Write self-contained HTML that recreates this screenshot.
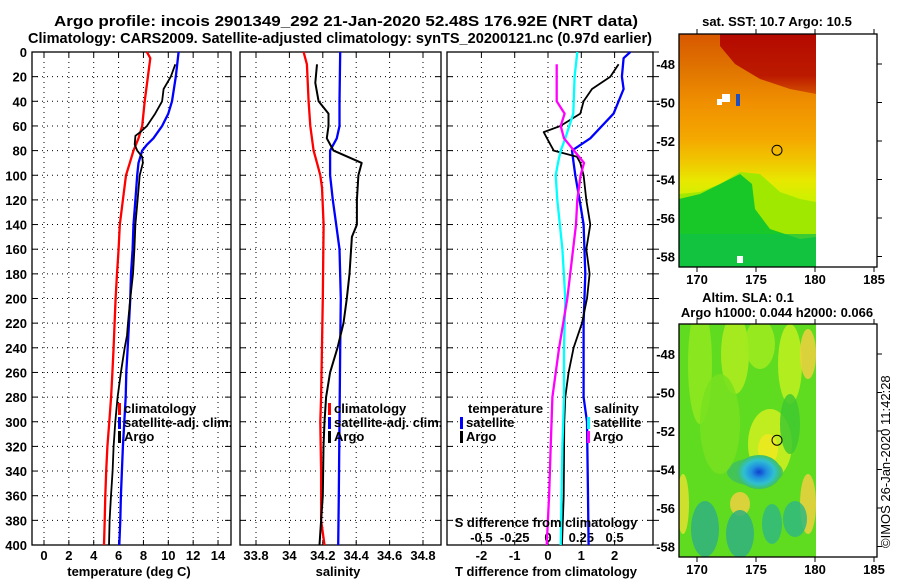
<!DOCTYPE html>
<html><head><meta charset="utf-8">
<style>
html,body{margin:0;padding:0;background:#fff;}
svg{display:block;font-family:"Liberation Sans",Arial,sans-serif;font-weight:bold;}
</style></head>
<body>
<svg id="chart" width="900" height="580" viewBox="0 0 900 580" xmlns="http://www.w3.org/2000/svg">
<text x="54" y="26" font-size="15" textLength="584" lengthAdjust="spacingAndGlyphs">Argo profile: incois 2901349_292 21-Jan-2020 52.48S 176.92E (NRT data)</text>
<text x="28" y="43" font-size="15" textLength="624" lengthAdjust="spacingAndGlyphs">Climatology: CARS2009. Satellite-adjusted climatology: synTS_20200121.nc (0.97d earlier)</text>
<g id="panels"></g>
<g id="maps"></g>
</svg>
<script>
// ---- data (depth in m) ----
const tClimDepth=[0,5,20,40,60,70,80,90,100,120,140,160,180,200,220,240,260,280,300,320,340,360,380,400];
const tClimVal=[8.28,8.55,8.36,8.1,7.9,7.6,7.2,6.9,6.6,6.35,6.1,6.0,5.87,5.76,5.68,5.6,5.5,5.4,5.25,5.1,5.0,4.93,4.88,4.83];
const tSatDepth=[0,20,40,50,60,70,75,80,90,100,120,140,160,180,200,220,240,260,280,300,320,340,360,380,400];
const tSatVal=[10.83,10.6,10.3,10.0,9.5,8.8,8.3,7.9,7.6,7.5,7.35,7.2,7.13,7.0,6.94,6.84,6.73,6.62,6.57,6.46,6.35,6.27,6.19,6.14,6.06];
const tArgoDepth=[10,20,30,40,50,60,65,68,75,80,85,90,100,120,140,160,180,200,220,230,240,260,280,300,320,340,360,380,400];
const tArgoVal=[10.56,10.2,9.62,9.5,8.95,8.28,7.75,7.35,7.3,7.5,7.9,7.96,7.7,7.53,7.35,7.27,7.16,6.94,6.76,6.68,6.49,6.19,5.92,5.74,5.6,5.52,5.39,5.28,5.23];

const sClimDepth=[0,10,40,60,80,90,100,110,140,200,280,300,340,380,400];
const sClimVal=[34.085,34.105,34.115,34.125,34.145,34.165,34.185,34.195,34.205,34.2,34.19,34.185,34.19,34.19,34.21];
const sSatDepth=[0,40,60,70,80,100,120,140,160,200,240,300,360,400];
const sSatVal=[34.304,34.3,34.3,34.284,34.244,34.244,34.26,34.28,34.3,34.308,34.304,34.3,34.296,34.292];
const sArgoDepth=[10,25,40,50,60,70,80,90,100,120,140,150,180,200,220,240,260,280,300,320,360,380,400];
const sArgoVal=[34.165,34.155,34.175,34.234,34.234,34.224,34.264,34.433,34.413,34.404,34.404,34.374,34.36,34.344,34.324,34.288,34.244,34.22,34.21,34.204,34.2,34.19,34.18];

const dTSatDepth=[0,5,20,30,50,70,80,90,100,120,140,180,220,280,300,360,400];
const dTSatVal=[2.47,2.27,2.22,2.27,1.97,1.27,0.72,0.77,0.82,0.95,1.07,1.12,1.07,1.07,1.17,1.2,1.22];
const dTArgoDepth=[10,20,30,40,50,60,65,70,80,85,90,100,120,140,160,180,200,220,240,260,280,300,360,400];
const dTArgoVal=[2.12,1.87,1.32,1.07,0.97,0.37,-0.13,-0.03,0.17,0.87,0.97,1.07,1.15,1.27,1.15,1.25,1.17,1.02,0.77,0.62,0.52,0.49,0.47,0.42];
const dSArgoDepth=[10,40,50,60,70,80,90,100,120,140,200,240,280,320,360,400];
const dSArgoVal=[0.065,0.065,0.125,0.095,0.12,0.195,0.27,0.245,0.22,0.21,0.145,0.083,0.033,0.02,0.008,-0.01];
const dSSatDepth=[0,20,50,70,80,90,100,120,160,200,240,280,320,400];
const dSSatVal=[0.22,0.2,0.19,0.13,0.095,0.075,0.058,0.07,0.108,0.13,0.12,0.12,0.108,0.095];

const depthTicks=[0,20,40,60,80,100,120,140,160,180,200,220,240,260,280,300,320,340,360,380,400];
const tTicks=[0,2,4,6,8,10,12,14];
const sTicks=[33.8,34,34.2,34.4,34.6,34.8];
const sTickLabels=["33.8","34","34.2","34.4","34.6","34.8"];
const dTTicks=[-2,-1,0,1,2];
const dSTicks=[-0.5,-0.25,0,0.25,0.5];
const latTicks=[-48,-50,-52,-54,-56,-58];
const lonTicks=[170,175,180,185];

const NS="http://www.w3.org/2000/svg";
const panels=document.getElementById('panels');
const maps=document.getElementById('maps');
function mk(tag,attrs,parent){const e=document.createElementNS(NS,tag);for(const k in attrs)e.setAttribute(k,attrs[k]);(parent||panels).appendChild(e);return e;}

const yTop=52,yBot=545;
const yD=d=>yTop+d*(yBot-yTop)/400;
const xT=t=>44+t*12.43;
const xS=s=>256+(s-33.8)*167;
const xDT=t=>548+t*33.3;
const xDS=s=>548+s*133.2;

function frame(x0,x1,name){
  const r=mk('rect',{x:x0,y:yTop,width:x1-x0,height:yBot-yTop,fill:'none',stroke:'#000','stroke-width':1.3});
  
  
}
function hgrid(x0,x1,ticksOut){
  depthTicks.forEach(d=>{
    const y=yD(d);
    if(d>0&&d<400){
      const l=mk('line',{x1:x0,x2:x1,y1:y,y2:y,stroke:'#000','stroke-dasharray':'1 4','stroke-width':1});
      
      
    }
    mk('line',{x1:x0,x2:x0+6,y1:y,y2:y,stroke:'#000'});
    mk('line',{x1:x1-6,x2:x1,y1:y,y2:y,stroke:'#000'});
    if(ticksOut) mk('line',{x1:x1,x2:x1+6,y1:y,y2:y,stroke:'#000'});
  });
}
function vgrid(vals,fx,labels,name,labelY){
  vals.forEach((v,i)=>{
    const x=fx(v);
    const l=mk('line',{x1:x,x2:x,y1:yTop,y2:yBot,stroke:'#000','stroke-dasharray':'1 4'});
    
    
    mk('line',{x1:x,x2:x,y1:yTop,y2:yTop+5,stroke:'#000'});
    mk('line',{x1:x,x2:x,y1:yBot-5,y2:yBot,stroke:'#000'});
    const t=mk('text',{x:x,y:labelY,'font-size':13,'text-anchor':'middle'});
    t.textContent=labels[i];
    
    
  });
}
function series(ds,vs,fx,color,w,name){
  const pts=ds.map((d,i)=>fx(vs[i]).toFixed(1)+','+yD(d).toFixed(1)).join(' ');
  const p=mk('polyline',{points:pts,fill:'none',stroke:color,'stroke-width':w,'stroke-linejoin':'round'});
  
  
}
function txt(x,y,s,size,anchor,name){
  const t=mk('text',{x:x,y:y,'font-size':size,'text-anchor':anchor||'start'});
  t.textContent=s;
  
  
  return t;
}
function legendRow(x,y,color,label,name){
  const r=mk('rect',{x:x,y:y-10,width:3,height:12,fill:color});
  
  
  txt(x+6,y,label,13,'start',name);
}

// depth labels
depthTicks.forEach(d=>{
  const t=mk('text',{x:27,y:yD(d)+5,'font-size':13,'text-anchor':'end'});
  t.textContent=d;
  
  
});

// Panel 1 temperature
hgrid(32,231,false);
vgrid(tTicks,xT,tTicks.map(String),'temperature',560);
frame(32,231,'temperature-panel');
series(tClimDepth,tClimVal,xT,'#f00',2.3,'temperature-climatology-line');
series(tSatDepth,tSatVal,xT,'#00f',2.3,'temperature-satellite-line');
series(tArgoDepth,tArgoVal,xT,'#000',1.8,'temperature-argo-line');
txt(129,576,'temperature (deg C)',13,'middle','temperature-axis-title');
legendRow(118,413,'#f00','climatology','temperature-legend-climatology');
legendRow(118,427,'#00f','satellite-adj. clim.','temperature-legend-satellite');
legendRow(118,441,'#000','Argo','temperature-legend-argo');

// Panel 2 salinity
hgrid(240,441,false);
vgrid(sTicks,xS,sTickLabels,'salinity',560);
frame(240,441,'salinity-panel');
series(sClimDepth,sClimVal,xS,'#f00',2.3,'salinity-climatology-line');
series(sSatDepth,sSatVal,xS,'#00f',2.3,'salinity-satellite-line');
series(sArgoDepth,sArgoVal,xS,'#000',2,'salinity-argo-line');
txt(338,576,'salinity',13,'middle','salinity-axis-title');
legendRow(328,413,'#f00','climatology','salinity-legend-climatology');
legendRow(328,427,'#00f','satellite-adj. clim.','salinity-legend-satellite');
legendRow(328,441,'#000','Argo','salinity-legend-argo');

// Panel 3 differences
hgrid(447,653,true);
vgrid(dTTicks,xDT,dTTicks.map(String),'t-difference',560);
dSTicks.forEach((v,i)=>{
  const t=mk('text',{x:xDS(v),y:542,'font-size':13,'text-anchor':'middle'});
  t.textContent=String(v);
  
  
});
frame(447,653,'difference-panel');
series(dTSatDepth,dTSatVal,xDT,'#00f',2.3,'t-diff-satellite-line');
series(dTArgoDepth,dTArgoVal,xDT,'#000',1.8,'t-diff-argo-line');
series(dSSatDepth,dSSatVal,xDS,'#0ff',2.3,'s-diff-satellite-line');
series(dSArgoDepth,dSArgoVal,xDS,'#f0f',2.3,'s-diff-argo-line');
txt(546,527,'S difference from climatology',13,'middle','s-difference-axis-title');
txt(546,576,'T difference from climatology',13,'middle','t-difference-axis-title');
txt(468,413,'temperature',13,'start','legend-temperature-heading');
legendRow(460,427,'#00f','satellite','legend-t-satellite');
legendRow(460,441,'#000','Argo','legend-t-argo');
txt(594,413,'salinity',13,'start','legend-salinity-heading');
legendRow(587,427,'#0ff','satellite','legend-s-satellite');
legendRow(587,441,'#f0f','Argo','legend-s-argo');

// ---- Maps ----
const mapX0=679,mapX1=877,dataX1=816;
const lonX=lon=>697+(lon-170)*11.8;
function buildMap(top,kind,name,cid){
  const bot=top+233;
  const latY=lat=>top+30+(-48-lat)*19.25;
  const g=mk('g',{},maps);
  
  
  const defs=mk('defs',{},g);
  const cp=mk('clipPath',{id:cid},defs);
  mk('rect',{x:mapX0,y:top,width:dataX1-mapX0,height:233},cp);
  const d=mk('g',{'clip-path':'url(#'+cid+')'},g);
  if(kind==='sst'){
    const lg=mk('linearGradient',{id:'sstg',x1:0,y1:0,x2:0,y2:1},defs);
    [['0','#d85800'],['0.15','#e07400'],['0.3','#f09000'],['0.45','#f4a800'],['0.55','#f0c800'],['0.63','#e8e800'],['0.7','#d0f000'],['1','#c0f000']]
      .forEach(s=>mk('stop',{offset:s[0],'stop-color':s[1]},lg));
    mk('rect',{x:mapX0,y:top,width:dataX1-mapX0,height:233,fill:'url(#sstg)'},d);
    const rg=mk('linearGradient',{id:'redg',x1:0,y1:0,x2:0,y2:1},defs);
    [['0','#b00000'],['0.7','#b81000'],['1','#d04800']].forEach(s=>mk('stop',{offset:s[0],'stop-color':s[1]},rg));
    mk('polygon',{points:`720,${top} 816,${top} 816,${top+60} 790,${top+55} 760,${top+45} 735,${top+30} 720,${top+12}`,fill:'url(#redg)',opacity:0.9},d);
    mk('polygon',{points:`679,${top+160} 700,${top+158} 720,${top+150} 740,${top+138} 760,${top+140} 780,${top+158} 800,${top+165} 816,${top+168} 816,${top+233} 679,${top+233}`,fill:'#a0e800'},d);
    mk('polygon',{points:`679,${top+165} 700,${top+160} 720,${top+150} 740,${top+140} 752,${top+150} 755,${top+175} 770,${top+195} 800,${top+205} 816,${top+203} 816,${top+233} 679,${top+233}`,fill:'#18c828'},d);
    mk('rect',{x:679,y:top+200,width:137,height:33,fill:'#10c048',opacity:0.7},d);
    mk('rect',{x:722,y:top+60,width:8,height:8,fill:'#fff'},d);
    mk('rect',{x:717,y:top+65,width:5,height:6,fill:'#fff'},d);
    mk('rect',{x:736,y:top+60,width:4,height:12,fill:'#2050c0'},d);
    mk('rect',{x:737,y:top+222,width:6,height:7,fill:'#fff'},d);
  } else {
    mk('rect',{x:mapX0,y:top,width:dataX1-mapX0,height:233,fill:'#60dc20'},d);
    const blobs=[[700,top+40,12,60,'#90e820'],[735,top+30,14,40,'#b0ec20'],[760,top+20,15,25,'#a0ea20'],[790,top+40,12,40,'#c0f020'],[770,top+120,22,35,'#d0f020'],[768,top+125,10,15,'#f0e820'],[808,top+30,8,25,'#f0d040'],[808,top+180,8,30,'#f0d040'],[740,top+180,10,12,'#f0d040'],[683,top+180,6,30,'#e0e030'],[790,top+100,10,30,'#40c830'],[755,top+148,28,14,'#40c060'],[705,top+205,14,28,'#30b080'],[740,top+210,14,24,'#30b080'],[772,top+200,10,20,'#30b880'],[795,top+195,12,18,'#30b880'],[720,top+100,20,50,'#78e020']];
    blobs.forEach(b=>mk('ellipse',{cx:b[0],cy:b[1],rx:b[2],ry:b[3],fill:b[4],opacity:0.85},d));
    const rg=mk('radialGradient',{id:'slablob'},defs);
    [['0','#1040d0'],['0.35','#2090e0'],['0.7','#30c0d0'],['1','#40c060']].forEach(s=>mk('stop',{offset:s[0],'stop-color':s[1]},rg));
    mk('ellipse',{cx:759,cy:top+148,rx:22,ry:17,fill:'url(#slablob)'},d);
  }
  mk('circle',{cx:777,cy:latY(-52.48),r:5,fill:'none',stroke:'#000','stroke-width':1},g);
  mk('rect',{x:mapX0,y:top,width:mapX1-mapX0,height:233,fill:'none',stroke:'#000','stroke-width':1.3},g);
  latTicks.forEach(l=>{
    const y=latY(l);
    mk('line',{x1:mapX1,x2:mapX1+5,y1:y,y2:y,stroke:'#000'},g);
    const t=mk('text',{x:675,y:y+5,'font-size':13,'text-anchor':'end'},g);
    t.textContent=String(l);
    
    
  });
  lonTicks.forEach(l=>{
    const x=lonX(l);
    mk('line',{x1:x,x2:x,y1:top-5,y2:top,stroke:'#000'},g);
    mk('line',{x1:x,x2:x,y1:bot,y2:bot+5,stroke:'#000'},g);
    const t=mk('text',{x:x,y:bot+17,'font-size':13,'text-anchor':'middle'},g);
    t.textContent=String(l);
    
    
  });
}
buildMap(34,'sst','sst-map','clipsst');
buildMap(324,'sla','sla-map','clipsla');
txt(777,26,'sat. SST: 10.7 Argo: 10.5',13,'middle','sst-map-title');
txt(748,302,'Altim. SLA: 0.1',13,'middle','sla-map-title');
txt(777,317,'Argo h1000: 0.044 h2000: 0.066',13,'middle','sla-argo-heights');
const cr=txt(0,0,'©IMOS 26-Jan-2020 11:42:28',13,'start','copyright-stamp');
cr.setAttribute('font-weight','normal');
cr.setAttribute('transform','translate(890,548) rotate(-90)');
</script>
</body></html>
